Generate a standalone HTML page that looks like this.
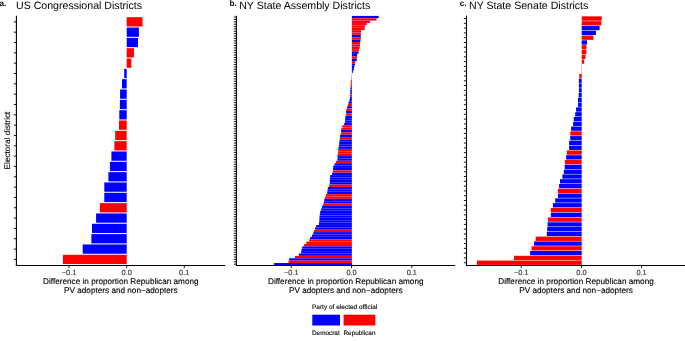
<!DOCTYPE html>
<html><head><meta charset="utf-8"><title>PV adopters by district</title>
<style>
html,body{margin:0;padding:0;background:#fff;}
body{width:685px;height:341px;overflow:hidden;}
text.s{stroke:currentColor;stroke-width:0.12px;}
svg{display:block;text-rendering:geometricPrecision;font-family:"Liberation Sans",Arial,Helvetica,sans-serif;}
</style></head><body>
<svg width="685" height="341" viewBox="0 0 685 341">
<rect width="685" height="341" fill="#fff"/>
<g shape-rendering="auto"><rect x="126.7" y="17.2" width="15.8" height="9.3" fill="#FF0000"/><rect x="126.7" y="27.53" width="12.2" height="9.3" fill="#0000FF"/><rect x="126.7" y="37.86" width="11.3" height="9.3" fill="#0000FF"/><rect x="126.7" y="48.18" width="7.3" height="9.3" fill="#FF0000"/><rect x="126.7" y="58.51" width="4.6" height="9.3" fill="#FF0000"/><rect x="124.2" y="68.84" width="2.5" height="9.3" fill="#0000FF"/><rect x="122" y="79.17" width="4.7" height="9.3" fill="#0000FF"/><rect x="120.1" y="89.5" width="6.6" height="9.3" fill="#0000FF"/><rect x="119.9" y="99.83" width="6.8" height="9.3" fill="#0000FF"/><rect x="119.3" y="110.16" width="7.4" height="9.3" fill="#0000FF"/><rect x="119" y="120.48" width="7.7" height="9.3" fill="#FF0000"/><rect x="115.2" y="130.81" width="11.5" height="9.3" fill="#FF0000"/><rect x="114.4" y="141.14" width="12.3" height="9.3" fill="#FF0000"/><rect x="111.4" y="151.47" width="15.3" height="9.3" fill="#0000FF"/><rect x="109.9" y="161.8" width="16.8" height="9.3" fill="#0000FF"/><rect x="108.4" y="172.13" width="18.3" height="9.3" fill="#0000FF"/><rect x="104.3" y="182.46" width="22.4" height="9.3" fill="#0000FF"/><rect x="104.3" y="192.78" width="22.4" height="9.3" fill="#0000FF"/><rect x="99.9" y="203.11" width="26.8" height="9.3" fill="#FF0000"/><rect x="96.1" y="213.44" width="30.6" height="9.3" fill="#0000FF"/><rect x="92" y="223.77" width="34.7" height="9.3" fill="#0000FF"/><rect x="91.4" y="234.1" width="35.3" height="9.3" fill="#0000FF"/><rect x="82.7" y="244.43" width="44" height="9.3" fill="#0000FF"/><rect x="62.9" y="254.76" width="63.8" height="9.3" fill="#FF0000"/></g>
<path d="M13.8 21.85H16.4M13.8 32.18H16.4M13.8 42.5H16.4M13.8 52.83H16.4M13.8 63.16H16.4M13.8 73.49H16.4M13.8 83.82H16.4M13.8 94.15H16.4M13.8 104.48H16.4M13.8 114.8H16.4M13.8 125.13H16.4M13.8 135.46H16.4M13.8 145.79H16.4M13.8 156.12H16.4M13.8 166.45H16.4M13.8 176.77H16.4M13.8 187.1H16.4M13.8 197.43H16.4M13.8 207.76H16.4M13.8 218.09H16.4M13.8 228.42H16.4M13.8 238.75H16.4M13.8 249.07H16.4M13.8 259.4H16.4" stroke="#000000" stroke-width="0.9" fill="none"/>
<path d="M16.4 15.65V266.05" stroke="#000000" stroke-width="1.1" fill="none"/>
<path d="M15.85 265.45H225.3" stroke="#000000" stroke-width="1.05" fill="none"/>
<text class="s" x="69.05" y="275" font-size="7.4" fill="#333333" color="#333333" text-anchor="middle">−0.1</text>
<text class="s" x="126.65" y="275" font-size="7.4" fill="#333333" color="#333333" text-anchor="middle">0.0</text>
<text class="s" x="184.25" y="275" font-size="7.4" fill="#333333" color="#333333" text-anchor="middle">0.1</text>
<path d="M69.05 265.9V268.1M126.65 265.9V268.1M184.25 265.9V268.1" stroke="#000000" stroke-width="0.9" fill="none"/>
<text class="s" x="120.85" y="284" font-size="8.2" fill="#000000" text-anchor="middle">Difference in proportion Republican among</text>
<text class="s" x="120.85" y="293" font-size="8.2" fill="#000000" text-anchor="middle">PV adopters and non−adopters</text>
<text x="16" y="9" font-size="10.6" fill="#000000">US Congressional Districts</text>
<text x="-0.6" y="5.9" font-size="8.2" font-weight="bold" fill="#000000">a.</text>
<g shape-rendering="auto"><rect x="351.85" y="15.92" width="26.85" height="2.3" fill="#0000FF"/><rect x="351.85" y="18.3" width="24.65" height="2.3" fill="#FF0000"/><rect x="351.85" y="20.68" width="18.05" height="2.3" fill="#FF0000"/><rect x="351.85" y="23.05" width="14.75" height="2.3" fill="#FF0000"/><rect x="351.85" y="25.43" width="12.95" height="2.3" fill="#FF0000"/><rect x="351.85" y="27.8" width="12.75" height="2.3" fill="#FF0000"/><rect x="351.85" y="30.18" width="9.15" height="2.3" fill="#FF0000"/><rect x="351.85" y="32.55" width="8.95" height="2.3" fill="#FF0000"/><rect x="351.85" y="34.93" width="8.95" height="2.3" fill="#0000FF"/><rect x="351.85" y="37.31" width="8.95" height="2.3" fill="#FF0000"/><rect x="351.85" y="39.68" width="8.55" height="2.3" fill="#0000FF"/><rect x="351.85" y="42.06" width="8.15" height="2.3" fill="#FF0000"/><rect x="351.85" y="44.43" width="8.15" height="2.3" fill="#FF0000"/><rect x="351.85" y="46.81" width="7.75" height="2.3" fill="#FF0000"/><rect x="351.85" y="49.19" width="7.05" height="2.3" fill="#FF0000"/><rect x="351.85" y="51.56" width="6.65" height="2.3" fill="#0000FF"/><rect x="351.85" y="53.94" width="5.15" height="2.3" fill="#0000FF"/><rect x="351.85" y="56.31" width="5.15" height="2.3" fill="#FF0000"/><rect x="351.85" y="58.69" width="4.95" height="2.3" fill="#0000FF"/><rect x="351.85" y="61.07" width="3.35" height="2.3" fill="#FF0000"/><rect x="351.85" y="63.44" width="3.15" height="2.3" fill="#0000FF"/><rect x="351.85" y="65.82" width="2.25" height="2.3" fill="#0000FF"/><rect x="351.85" y="68.19" width="2.15" height="2.3" fill="#0000FF"/><rect x="351.85" y="70.57" width="1.15" height="2.3" fill="#0000FF"/><rect x="351.85" y="72.95" width="0.25" height="2.3" fill="#FF0000"/><rect x="351.6" y="75.32" width="0.25" height="2.3" fill="#0000FF"/><rect x="351.5" y="77.7" width="0.35" height="2.3" fill="#0000FF"/><rect x="350.8" y="80.07" width="1.05" height="2.3" fill="#FF0000"/><rect x="350.7" y="82.45" width="1.15" height="2.3" fill="#FF0000"/><rect x="350.6" y="84.83" width="1.25" height="2.3" fill="#FF0000"/><rect x="350.4" y="87.2" width="1.45" height="2.3" fill="#0000FF"/><rect x="350.3" y="89.58" width="1.55" height="2.3" fill="#0000FF"/><rect x="350.3" y="91.95" width="1.55" height="2.3" fill="#0000FF"/><rect x="350" y="94.33" width="1.85" height="2.3" fill="#FF0000"/><rect x="350" y="96.71" width="1.85" height="2.3" fill="#0000FF"/><rect x="349.4" y="99.08" width="2.45" height="2.3" fill="#0000FF"/><rect x="348.5" y="101.46" width="3.35" height="2.3" fill="#0000FF"/><rect x="347.9" y="103.83" width="3.95" height="2.3" fill="#FF0000"/><rect x="347.2" y="106.21" width="4.65" height="2.3" fill="#0000FF"/><rect x="346.3" y="108.59" width="5.55" height="2.3" fill="#FF0000"/><rect x="346.1" y="110.96" width="5.75" height="2.3" fill="#0000FF"/><rect x="346.1" y="113.34" width="5.75" height="2.3" fill="#FF0000"/><rect x="345.4" y="115.71" width="6.45" height="2.3" fill="#0000FF"/><rect x="345.1" y="118.09" width="6.75" height="2.3" fill="#0000FF"/><rect x="345" y="120.47" width="6.85" height="2.3" fill="#0000FF"/><rect x="344.2" y="122.84" width="7.65" height="2.3" fill="#0000FF"/><rect x="342.3" y="125.22" width="9.55" height="2.3" fill="#FF0000"/><rect x="341.4" y="127.59" width="10.45" height="2.3" fill="#FF0000"/><rect x="341.1" y="129.97" width="10.75" height="2.3" fill="#0000FF"/><rect x="341" y="132.34" width="10.85" height="2.3" fill="#FF0000"/><rect x="340.1" y="134.72" width="11.75" height="2.3" fill="#0000FF"/><rect x="339.9" y="137.1" width="11.95" height="2.3" fill="#FF0000"/><rect x="339.6" y="139.47" width="12.25" height="2.3" fill="#0000FF"/><rect x="339.2" y="141.85" width="12.65" height="2.3" fill="#0000FF"/><rect x="339" y="144.22" width="12.85" height="2.3" fill="#0000FF"/><rect x="338.4" y="146.6" width="13.45" height="2.3" fill="#0000FF"/><rect x="338.2" y="148.98" width="13.65" height="2.3" fill="#FF0000"/><rect x="338.1" y="151.35" width="13.75" height="2.3" fill="#FF0000"/><rect x="337.6" y="153.73" width="14.25" height="2.3" fill="#FF0000"/><rect x="337.6" y="156.1" width="14.25" height="2.3" fill="#0000FF"/><rect x="337.4" y="158.48" width="14.45" height="2.3" fill="#0000FF"/><rect x="335.9" y="160.86" width="15.95" height="2.3" fill="#FF0000"/><rect x="334.5" y="163.23" width="17.35" height="2.3" fill="#0000FF"/><rect x="333.2" y="165.61" width="18.65" height="2.3" fill="#0000FF"/><rect x="333" y="167.98" width="18.85" height="2.3" fill="#0000FF"/><rect x="332.9" y="170.36" width="18.95" height="2.3" fill="#FF0000"/><rect x="332" y="172.74" width="19.85" height="2.3" fill="#0000FF"/><rect x="330.1" y="175.11" width="21.75" height="2.3" fill="#0000FF"/><rect x="329.8" y="177.49" width="22.05" height="2.3" fill="#0000FF"/><rect x="329.8" y="179.86" width="22.05" height="2.3" fill="#0000FF"/><rect x="329.7" y="182.24" width="22.15" height="2.3" fill="#0000FF"/><rect x="329.1" y="184.62" width="22.75" height="2.3" fill="#FF0000"/><rect x="327.9" y="186.99" width="23.95" height="2.3" fill="#0000FF"/><rect x="327.5" y="189.37" width="24.35" height="2.3" fill="#0000FF"/><rect x="327.2" y="191.74" width="24.65" height="2.3" fill="#0000FF"/><rect x="325.9" y="194.12" width="25.95" height="2.3" fill="#FF0000"/><rect x="325" y="196.5" width="26.85" height="2.3" fill="#FF0000"/><rect x="324.2" y="198.87" width="27.65" height="2.3" fill="#0000FF"/><rect x="323.8" y="201.25" width="28.05" height="2.3" fill="#0000FF"/><rect x="322.9" y="203.62" width="28.95" height="2.3" fill="#FF0000"/><rect x="322" y="206" width="29.85" height="2.3" fill="#0000FF"/><rect x="321.1" y="208.38" width="30.75" height="2.3" fill="#0000FF"/><rect x="320.2" y="210.75" width="31.65" height="2.3" fill="#0000FF"/><rect x="319.8" y="213.13" width="32.05" height="2.3" fill="#0000FF"/><rect x="319.5" y="215.5" width="32.35" height="2.3" fill="#0000FF"/><rect x="319.4" y="217.88" width="32.45" height="2.3" fill="#0000FF"/><rect x="319.2" y="220.25" width="32.65" height="2.3" fill="#0000FF"/><rect x="318.9" y="222.63" width="32.95" height="2.3" fill="#0000FF"/><rect x="316.2" y="225.01" width="35.65" height="2.3" fill="#0000FF"/><rect x="315.1" y="227.38" width="36.75" height="2.3" fill="#0000FF"/><rect x="314" y="229.76" width="37.85" height="2.3" fill="#FF0000"/><rect x="313.3" y="232.13" width="38.55" height="2.3" fill="#0000FF"/><rect x="312" y="234.51" width="39.85" height="2.3" fill="#0000FF"/><rect x="310.1" y="236.89" width="41.75" height="2.3" fill="#0000FF"/><rect x="309.2" y="239.26" width="42.65" height="2.3" fill="#FF0000"/><rect x="306.3" y="241.64" width="45.55" height="2.3" fill="#FF0000"/><rect x="304.1" y="244.01" width="47.75" height="2.3" fill="#FF0000"/><rect x="302.2" y="246.39" width="49.65" height="2.3" fill="#0000FF"/><rect x="301.5" y="248.77" width="50.35" height="2.3" fill="#0000FF"/><rect x="301.1" y="251.14" width="50.75" height="2.3" fill="#0000FF"/><rect x="298.8" y="253.52" width="53.05" height="2.3" fill="#0000FF"/><rect x="295" y="255.89" width="56.85" height="2.3" fill="#FF0000"/><rect x="289.1" y="258.27" width="62.75" height="2.3" fill="#0000FF"/><rect x="288.5" y="260.65" width="63.35" height="2.3" fill="#FF0000"/><rect x="274" y="263.02" width="77.85" height="2.3" fill="#0000FF"/></g>
<path d="M233.8 17.08H236.4M233.8 19.45H236.4M233.8 21.83H236.4M233.8 24.2H236.4M233.8 26.58H236.4M233.8 28.96H236.4M233.8 31.33H236.4M233.8 33.71H236.4M233.8 36.08H236.4M233.8 38.46H236.4M233.8 40.84H236.4M233.8 43.21H236.4M233.8 45.59H236.4M233.8 47.96H236.4M233.8 50.34H236.4M233.8 52.71H236.4M233.8 55.09H236.4M233.8 57.47H236.4M233.8 59.84H236.4M233.8 62.22H236.4M233.8 64.59H236.4M233.8 66.97H236.4M233.8 69.35H236.4M233.8 71.72H236.4M233.8 74.1H236.4M233.8 76.47H236.4M233.8 78.85H236.4M233.8 81.23H236.4M233.8 83.6H236.4M233.8 85.98H236.4M233.8 88.35H236.4M233.8 90.73H236.4M233.8 93.11H236.4M233.8 95.48H236.4M233.8 97.86H236.4M233.8 100.23H236.4M233.8 102.61H236.4M233.8 104.99H236.4M233.8 107.36H236.4M233.8 109.74H236.4M233.8 112.11H236.4M233.8 114.49H236.4M233.8 116.87H236.4M233.8 119.24H236.4M233.8 121.62H236.4M233.8 123.99H236.4M233.8 126.37H236.4M233.8 128.75H236.4M233.8 131.12H236.4M233.8 133.5H236.4M233.8 135.87H236.4M233.8 138.25H236.4M233.8 140.62H236.4M233.8 143H236.4M233.8 145.38H236.4M233.8 147.75H236.4M233.8 150.13H236.4M233.8 152.5H236.4M233.8 154.88H236.4M233.8 157.26H236.4M233.8 159.63H236.4M233.8 162.01H236.4M233.8 164.38H236.4M233.8 166.76H236.4M233.8 169.14H236.4M233.8 171.51H236.4M233.8 173.89H236.4M233.8 176.26H236.4M233.8 178.64H236.4M233.8 181.02H236.4M233.8 183.39H236.4M233.8 185.77H236.4M233.8 188.14H236.4M233.8 190.52H236.4M233.8 192.9H236.4M233.8 195.27H236.4M233.8 197.65H236.4M233.8 200.02H236.4M233.8 202.4H236.4M233.8 204.78H236.4M233.8 207.15H236.4M233.8 209.53H236.4M233.8 211.9H236.4M233.8 214.28H236.4M233.8 216.66H236.4M233.8 219.03H236.4M233.8 221.41H236.4M233.8 223.78H236.4M233.8 226.16H236.4M233.8 228.54H236.4M233.8 230.91H236.4M233.8 233.29H236.4M233.8 235.66H236.4M233.8 238.04H236.4M233.8 240.41H236.4M233.8 242.79H236.4M233.8 245.17H236.4M233.8 247.54H236.4M233.8 249.92H236.4M233.8 252.29H236.4M233.8 254.67H236.4M233.8 257.05H236.4M233.8 259.42H236.4M233.8 261.8H236.4M233.8 264.17H236.4" stroke="#000000" stroke-width="0.9" fill="none"/>
<path d="M236.4 15.65V266.05" stroke="#000000" stroke-width="1.1" fill="none"/>
<path d="M235.85 265.45H455.1" stroke="#000000" stroke-width="1.05" fill="none"/>
<text class="s" x="291.3" y="275" font-size="7.4" fill="#333333" color="#333333" text-anchor="middle">−0.1</text>
<text class="s" x="351.55" y="275" font-size="7.4" fill="#333333" color="#333333" text-anchor="middle">0.0</text>
<text class="s" x="411.8" y="275" font-size="7.4" fill="#333333" color="#333333" text-anchor="middle">0.1</text>
<path d="M291.3 265.9V268.1M351.55 265.9V268.1M411.8 265.9V268.1" stroke="#000000" stroke-width="0.9" fill="none"/>
<text class="s" x="345.75" y="284" font-size="8.2" fill="#000000" text-anchor="middle">Difference in proportion Republican among</text>
<text class="s" x="345.75" y="293" font-size="8.2" fill="#000000" text-anchor="middle">PV adopters and non−adopters</text>
<text x="239.2" y="9" font-size="10.6" fill="#000000">NY State Assembly Districts</text>
<text x="229.6" y="5.9" font-size="8.2" font-weight="bold" fill="#000000">b.</text>
<g shape-rendering="auto"><rect x="581.7" y="16.37" width="20.1" height="4.31" fill="#FF0000"/><rect x="581.7" y="21.16" width="19.6" height="4.31" fill="#FF0000"/><rect x="581.7" y="25.94" width="17.9" height="4.31" fill="#0000FF"/><rect x="581.7" y="30.73" width="14.2" height="4.31" fill="#0000FF"/><rect x="581.7" y="35.52" width="11.7" height="4.31" fill="#FF0000"/><rect x="581.7" y="40.31" width="5.3" height="4.31" fill="#0000FF"/><rect x="581.7" y="45.1" width="4.8" height="4.31" fill="#FF0000"/><rect x="581.7" y="49.89" width="4.7" height="4.31" fill="#FF0000"/><rect x="581.7" y="54.67" width="3.8" height="4.31" fill="#FF0000"/><rect x="581.7" y="59.46" width="2.4" height="4.31" fill="#FF0000"/><rect x="581.7" y="64.25" width="0.3" height="4.31" fill="#FF0000"/><rect x="581.4" y="69.04" width="0.3" height="4.31" fill="#FF0000"/><rect x="579.3" y="73.83" width="2.4" height="4.31" fill="#FF0000"/><rect x="578.9" y="78.62" width="2.8" height="4.31" fill="#0000FF"/><rect x="578.9" y="83.4" width="2.8" height="4.31" fill="#0000FF"/><rect x="578.9" y="88.19" width="2.8" height="4.31" fill="#0000FF"/><rect x="578.7" y="92.98" width="3" height="4.31" fill="#0000FF"/><rect x="578" y="97.77" width="3.7" height="4.31" fill="#0000FF"/><rect x="578" y="102.56" width="3.7" height="4.31" fill="#0000FF"/><rect x="576.1" y="107.35" width="5.6" height="4.31" fill="#0000FF"/><rect x="575.2" y="112.13" width="6.5" height="4.31" fill="#0000FF"/><rect x="573.8" y="116.92" width="7.9" height="4.31" fill="#0000FF"/><rect x="573.1" y="121.71" width="8.6" height="4.31" fill="#0000FF"/><rect x="571.1" y="126.5" width="10.6" height="4.31" fill="#0000FF"/><rect x="570.3" y="131.29" width="11.4" height="4.31" fill="#FF0000"/><rect x="570.2" y="136.08" width="11.5" height="4.31" fill="#0000FF"/><rect x="569.1" y="140.86" width="12.6" height="4.31" fill="#0000FF"/><rect x="569.1" y="145.65" width="12.6" height="4.31" fill="#0000FF"/><rect x="566.9" y="150.44" width="14.8" height="4.31" fill="#FF0000"/><rect x="566.1" y="155.23" width="15.6" height="4.31" fill="#0000FF"/><rect x="564.9" y="160.02" width="16.8" height="4.31" fill="#FF0000"/><rect x="564.7" y="164.81" width="17" height="4.31" fill="#0000FF"/><rect x="563.8" y="169.59" width="17.9" height="4.31" fill="#0000FF"/><rect x="562.4" y="174.38" width="19.3" height="4.31" fill="#0000FF"/><rect x="560" y="179.17" width="21.7" height="4.31" fill="#0000FF"/><rect x="559.1" y="183.96" width="22.6" height="4.31" fill="#0000FF"/><rect x="557.9" y="188.75" width="23.8" height="4.31" fill="#FF0000"/><rect x="557.9" y="193.54" width="23.8" height="4.31" fill="#0000FF"/><rect x="555.2" y="198.32" width="26.5" height="4.31" fill="#0000FF"/><rect x="552.9" y="203.11" width="28.8" height="4.31" fill="#0000FF"/><rect x="550.8" y="207.9" width="30.9" height="4.31" fill="#FF0000"/><rect x="550.9" y="212.69" width="30.8" height="4.31" fill="#0000FF"/><rect x="548" y="217.48" width="33.7" height="4.31" fill="#FF0000"/><rect x="547.6" y="222.27" width="34.1" height="4.31" fill="#0000FF"/><rect x="547.2" y="227.05" width="34.5" height="4.31" fill="#0000FF"/><rect x="546.8" y="231.84" width="34.9" height="4.31" fill="#0000FF"/><rect x="535.7" y="236.63" width="46" height="4.31" fill="#FF0000"/><rect x="534.1" y="241.42" width="47.6" height="4.31" fill="#0000FF"/><rect x="531.6" y="246.21" width="50.1" height="4.31" fill="#FF0000"/><rect x="530.1" y="251" width="51.6" height="4.31" fill="#0000FF"/><rect x="514.1" y="255.78" width="67.6" height="4.31" fill="#FF0000"/><rect x="476.9" y="260.57" width="104.8" height="4.31" fill="#FF0000"/></g>
<path d="M463.9 18.52H466.5M463.9 23.31H466.5M463.9 28.1H466.5M463.9 32.89H466.5M463.9 37.68H466.5M463.9 42.46H466.5M463.9 47.25H466.5M463.9 52.04H466.5M463.9 56.83H466.5M463.9 61.62H466.5M463.9 66.41H466.5M463.9 71.19H466.5M463.9 75.98H466.5M463.9 80.77H466.5M463.9 85.56H466.5M463.9 90.35H466.5M463.9 95.14H466.5M463.9 99.92H466.5M463.9 104.71H466.5M463.9 109.5H466.5M463.9 114.29H466.5M463.9 119.08H466.5M463.9 123.87H466.5M463.9 128.65H466.5M463.9 133.44H466.5M463.9 138.23H466.5M463.9 143.02H466.5M463.9 147.81H466.5M463.9 152.6H466.5M463.9 157.38H466.5M463.9 162.17H466.5M463.9 166.96H466.5M463.9 171.75H466.5M463.9 176.54H466.5M463.9 181.33H466.5M463.9 186.11H466.5M463.9 190.9H466.5M463.9 195.69H466.5M463.9 200.48H466.5M463.9 205.27H466.5M463.9 210.06H466.5M463.9 214.84H466.5M463.9 219.63H466.5M463.9 224.42H466.5M463.9 229.21H466.5M463.9 234H466.5M463.9 238.79H466.5M463.9 243.57H466.5M463.9 248.36H466.5M463.9 253.15H466.5M463.9 257.94H466.5M463.9 262.73H466.5" stroke="#000000" stroke-width="0.9" fill="none"/>
<path d="M466.5 15.65V266.05" stroke="#000000" stroke-width="1.1" fill="none"/>
<path d="M465.95 265.45H685.5" stroke="#000000" stroke-width="1.05" fill="none"/>
<text class="s" x="521.3" y="275" font-size="7.4" fill="#333333" color="#333333" text-anchor="middle">−0.1</text>
<text class="s" x="581.45" y="275" font-size="7.4" fill="#333333" color="#333333" text-anchor="middle">0.0</text>
<text class="s" x="641.6" y="275" font-size="7.4" fill="#333333" color="#333333" text-anchor="middle">0.1</text>
<path d="M521.3 265.9V268.1M581.45 265.9V268.1M641.6 265.9V268.1" stroke="#000000" stroke-width="0.9" fill="none"/>
<text class="s" x="576" y="284" font-size="8.2" fill="#000000" text-anchor="middle">Difference in proportion Republican among</text>
<text class="s" x="576" y="293" font-size="8.2" fill="#000000" text-anchor="middle">PV adopters and non−adopters</text>
<text x="469" y="9" font-size="10.6" fill="#000000">NY State Senate Districts</text>
<text x="459.8" y="5.9" font-size="8.2" font-weight="bold" fill="#000000">c.</text>
<text class="s" transform="translate(9.9 140.5) rotate(-90)" font-size="8.2" fill="#000000" text-anchor="middle">Electoral district</text>
<text class="s" x="312.0" y="308.7" font-size="6.5" fill="#000000">Party of elected official</text>
<rect x="312.3" y="314.7" width="27.7" height="10.8" fill="#0000FF"/>
<rect x="343.6" y="314.7" width="31.7" height="10.8" fill="#FF0000"/>
<text class="s" x="312.0" y="334.9" font-size="6.4" fill="#000000">Democrat</text>
<text class="s" x="343.5" y="334.9" font-size="6.4" fill="#000000">Republican</text>
</svg>
</body></html>
